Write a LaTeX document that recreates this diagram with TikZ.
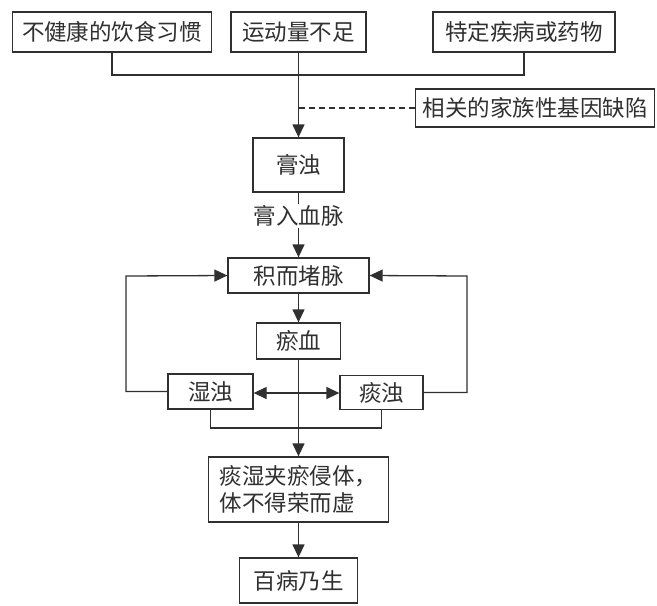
\documentclass[tikz,border=0pt]{standalone}
\usepackage{fontspec}
\setmainfont{Noto Sans CJK SC}
\usetikzlibrary{arrows.meta,calc}
\definecolor{ink}{HTML}{303030}
\tikzset{
  box/.style={draw=ink, line width=1.3pt, rectangle, inner sep=0pt, text=ink,
    font=\fontsize{22.5}{27}\selectfont},
  conn/.style={draw=ink, line width=1.3pt},
  arr/.style={conn, -{Triangle[length=13pt,width=12pt]}},
  darr/.style={conn, {Triangle[length=13pt,width=12pt]}-{Triangle[length=13pt,width=12pt]}},
  lbl/.style={fill=white, inner sep=2pt, text=ink, font=\fontsize{22.5}{27}\selectfont}
}
\begin{document}
\begin{tikzpicture}[x=1pt,y=-1pt]
\useasboundingbox[fill=white] (0,0) rectangle (657,606);
% nodes
\node[box, minimum width=199pt, minimum height=40pt] (b1) at (112,32) {不健康的饮食习惯};
\node[box, minimum width=135pt, minimum height=40pt] (b2) at (298.5,32) {运动量不足};
\node[box, minimum width=182pt, minimum height=40pt] (b3) at (524,32) {特定疾病或药物};
\node[box, minimum width=239pt, minimum height=38pt] (fam) at (535,108) {相关的家族性基因缺陷};
\node[box, minimum width=91pt, minimum height=54pt] (gao) at (298.5,165) {膏浊};
\node[box, minimum width=141pt, minimum height=35pt] (ji) at (298.5,275.5) {积而堵脉};
\node[box, minimum width=84pt, minimum height=36pt] (yu) at (298.5,341) {瘀血};
\node[box, minimum width=85pt, minimum height=35pt] (shi) at (210.5,391.5) {湿浊};
\node[box, minimum width=83pt, minimum height=34pt] (tan) at (381.5,392.5) {痰浊};
\node[box, minimum width=180pt, minimum height=65pt, align=left] (tsx) at (298.5,489.5) {痰湿夹瘀侵体，\\体不得荣而虚};
\node[box, minimum width=118pt, minimum height=45pt] (bb) at (298.5,580.5) {百病乃生};
% junctions
\coordinate (j1) at (298.5,75);
\coordinate (j2) at (298.5,428);
\coordinate (L) at (126,276);
\coordinate (R) at (467,276);
% connectors
\draw[conn] (b1.south) |- (j1) -| (b3.south);
\draw[arr] (b2.south) -- (gao.north);
\draw[conn, dashed, dash pattern=on 6pt off 4pt] (fam.west) -- (fam.west -| gao.north);
\draw[arr] (gao.south) -- (ji.north);
\node[lbl] (lab) at (298.5,216) {膏入血脉};
\draw[arr] (ji.south) -- (yu.north);
\draw[arr] (yu.south) -- (tsx.north);
\draw[darr] (shi.east |- 0,393) -- (tan.west |- 0,393);
\draw[arr] (shi.west) -| (L) -- (ji.west);
\draw[arr] (tan.east) -| (R) -- (ji.east);
\draw[conn] (shi.south) |- (j2) -| (tan.south);
\draw[arr] (tsx.south) -- (bb.north);
\end{tikzpicture}
\end{document}
